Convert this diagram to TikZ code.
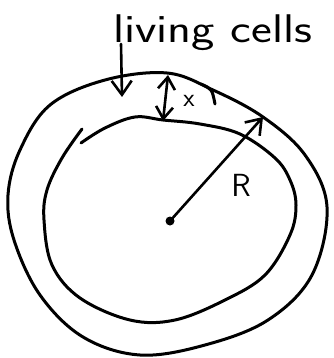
\documentclass[tikz,border=0pt]{standalone}
\usetikzlibrary{arrows.meta}
\begin{document}
\begin{tikzpicture}[x=1pt,y=-1pt,
  ink/.style={line width=3pt,line cap=round,line join=round},
  arr/.style={ink,line width=2.6pt,-{Straight Barb[length=14pt,width=20pt,line width=2.6pt]}},
  darr/.style={ink,line width=2.6pt,{Straight Barb[length=12pt,width=17pt,line width=2.6pt]}-{Straight Barb[length=12pt,width=17pt,line width=2.6pt]}},
  hand/.style={font=\sffamily}]
\useasboundingbox (0,0) rectangle (333,358);
% outer boundary
\draw[ink] plot[smooth cycle,tension=0.6] coordinates {(167,73) (213,90) (263,117) (305,155) (327,207) (312,275) (268,320) (205,345) (140,355) (83,337) (40,295) (14,240) (8,195) (20,150) (50,105) (105,80)};
% inner boundary
\draw[ink] plot[smooth,tension=0.6] coordinates {(82,129) (62,158) (47,190) (44,220) (52,265) (80,298) (130,320) (175,320) (225,300) (265,275) (290,235) (296,205) (290,180) (275,158) (240,134) (200,124) (163,120) (135,117) (105,128) (81,143)};
% short stroke
\draw[ink] (201,84) .. controls (212,89) .. (215,104);
% label living cells
\node[anchor=base west,xscale=1.24,inner sep=0pt,font=\sffamily\fontsize{40}{40}\selectfont] (lc) at (113,43) {living cells};
\coordinate (lcStart) at (121,44);
\coordinate (lcTip) at (122,97);
\draw[arr] (lcStart) -- (lcTip);
% thickness x
\coordinate (xTop) at (168,75);
\coordinate (xBot) at (163,121);
\draw[darr] (xTop) -- (xBot);
\node[font=\sffamily\fontsize{26}{26}\selectfont] (xl) at (189,101) {x};
% radius R
\node[circle,fill=black,inner sep=0pt,minimum size=9pt] (c) at (170,221) {};
\coordinate (rTip) at (263,117);
\draw[arr] (c.center) -- (rTip);
\node[font=\sffamily\fontsize{32}{32}\selectfont] (R) at (241,185) {R};
\end{tikzpicture}
\end{document}
